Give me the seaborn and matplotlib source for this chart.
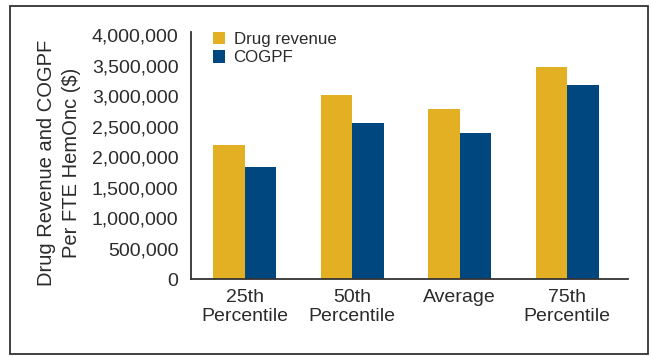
import pandas as pd
import seaborn as sns
import matplotlib.pyplot as plt
from matplotlib.patches import Rectangle
from matplotlib.ticker import FuncFormatter

categories = ["25th\nPercentile", "50th\nPercentile", "Average", "75th\nPercentile"]
drug_revenue = [2200000, 3010000, 2790000, 3480000]
cogpf = [1840000, 2550000, 2400000, 3180000]
series = ["Drug revenue", "COGPF"]
colors = ["#E3B023", "#00467F"]

df = pd.DataFrame({
    "category": categories * 2,
    "value": drug_revenue + cogpf,
    "series": [series[0]] * 4 + [series[1]] * 4,
})

sns.set_style("white")
plt.rcParams['font.family'] = ['Liberation Sans', 'DejaVu Sans']
text_color = "#2b2b2b"

fig = plt.figure(figsize=(6.53, 3.56), dpi=100)
ax = fig.add_axes([191 / 653, 1 - 279 / 356, 437 / 653, 247 / 356])

sns.barplot(data=df, x="category", y="value", hue="series", palette=colors,
            width=0.59, gap=0, saturation=1, linewidth=0, ax=ax, legend=True)

ax.set_xlim(-0.5, 3.565)
ax.set_ylim(0, 4050000)
ax.set_yticks(range(0, 4000001, 500000))
ax.yaxis.set_major_formatter(FuncFormatter(lambda v, p: f"{int(v):,}"))

# ticks at category edges, labels at centers
ax.set_xticks([-0.5, 0.5, 1.5, 2.5, 3.5])
ax.set_xticklabels([])
ax.set_xticks([0, 1, 2, 3], minor=True)
ax.set_xticklabels(categories, minor=True, fontsize=14, color=text_color, linespacing=1.2)
ax.tick_params(axis="x", which="minor", length=0, pad=7)
ax.tick_params(axis="x", which="major", length=6, width=1.2, color="#333333", direction="out")
ax.tick_params(axis="y", length=6, width=1.2, color="#333333", direction="out", pad=3,
               labelsize=14, labelcolor=text_color)

for s in ["top", "right"]:
    ax.spines[s].set_visible(False)
for s in ["left", "bottom"]:
    ax.spines[s].set_color("#333333")
    ax.spines[s].set_linewidth(1.3)

ax.set_xlabel("")
ax.set_ylabel("Drug Revenue and COGPF\nPer FTE HemOnc ($)", fontsize=14.5,
              color=text_color, linespacing=1.4)
ax.yaxis.set_label_coords(-0.252, 0.47)

leg = ax.legend(loc="upper left", bbox_to_anchor=(0.05, 1.0), frameon=False,
                fontsize=12.2, handlelength=0.72, handleheight=0.72,
                handletextpad=0.5, labelspacing=0.2, borderpad=0, borderaxespad=0)
for t in leg.get_texts():
    t.set_color(text_color)

fig.patches.append(Rectangle((10 / 653, 2 / 356), 638 / 653, 348 / 356,
                             transform=fig.transFigure, fill=False,
                             edgecolor="#333333", linewidth=1.3))

fig.savefig("out.png", dpi=100)
